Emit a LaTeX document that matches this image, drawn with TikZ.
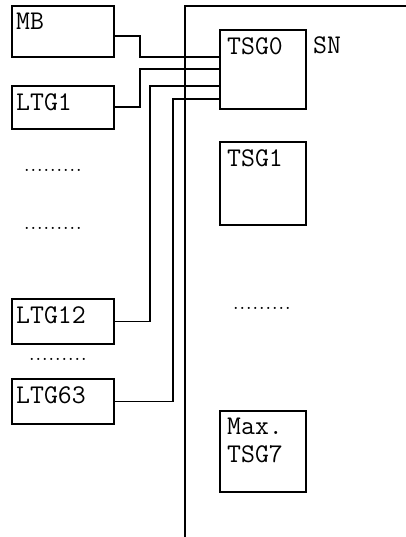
\documentclass[tikz,border=0pt]{standalone}
\usetikzlibrary{calc}

\begin{document}
\begin{tikzpicture}
      [x=1pt,y=-1pt
      ,box/.style={draw,line width=1.6pt,inner sep=0pt,anchor=north west}
      ,txt/.style={font=\ttfamily\fontsize{27}{28}\selectfont,inner sep=0pt,anchor=north west,align=left}
      ,dots/.style={font=\fontsize{26}{26}\selectfont,inner sep=0pt,anchor=base west}
      ,wire/.style={line width=1.6pt}
      ]
        \useasboundingbox (0,0) rectangle (406,537);
        % switching network frame
        \draw[wire] (406,6) -- (185,6) -- (185,537);
        \node[txt] (SN) at (313,36) {SN};
        % line trunk groups
        \node[box,minimum width=102pt,minimum height=51pt] (MB) at (11,5) {};
        \node[box,minimum width=102pt,minimum height=43pt] (LTG1) at (11,85) {};
        \node[box,minimum width=102pt,minimum height=45pt] (LTG12) at (11,298) {};
        \node[box,minimum width=102pt,minimum height=45pt] (LTG63) at (11,378) {};
        \foreach \b in {MB,LTG1,LTG12,LTG63}{
          \node[txt] at ($(\b.north west)+(5,8)$) {\b};
        }
        % time stage groups
        \node[box,minimum width=86pt,minimum height=79pt] (TSG0) at (219,29) {};
        \node[box,minimum width=86pt,minimum height=83pt] (TSG1) at (219,141) {};
        \node[box,minimum width=86pt,minimum height=81pt] (TSG7) at (219,410) {};
        \node[txt] at ($(TSG0.north west)+(8,8)$) {TSG0};
        \node[txt] at ($(TSG1.north west)+(8,8)$) {TSG1};
        \node[txt] at ($(TSG7.north west)+(8,8)$) {Max.\\TSG7};
        % dots
        \node[dots] (d1) at (23.5,171.5) {.........};
        \node[dots] (d2) at (23.5,229.5) {.........};
        \node[dots] (d3) at (28.5,360.5) {.........};
        \node[dots] (d4) at (232.5,309.5) {.........};
        % wires to TSG0
        \coordinate (k0) at (140,57);
        \draw[wire] ([yshift=-5pt]MB.east) -| (k0) -- (k0 -| TSG0.west);
        \foreach \src/\x/\y in {LTG1/140/69,LTG12/150/86,LTG63/173/99}{
          \coordinate (k) at (\x,\y);
          \draw[wire] (\src.east) -| (k) -- (k -| TSG0.west);
        }
      \end{tikzpicture}
\end{document}
